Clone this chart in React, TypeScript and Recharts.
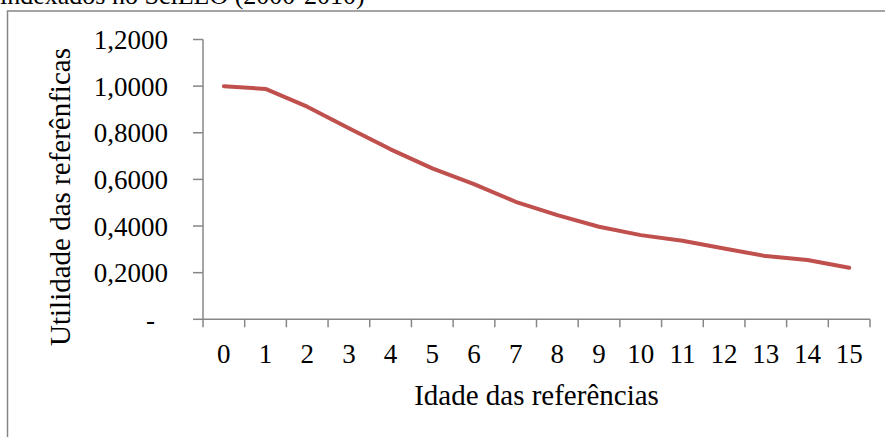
import React from "react";
import { LineChart, Line, XAxis, YAxis } from "recharts";

// idade das referências (anos) e utilidade média
const idades = ["0", "1", "2", "3", "4", "5", "6", "7", "8", "9", "10", "11", "12", "13", "14", "15"];
const utilidade = [1.0, 0.988, 0.912, 0.819, 0.729, 0.647, 0.58, 0.504, 0.447, 0.397, 0.361, 0.337, 0.304, 0.271, 0.254, 0.221];
const yTicks = [0, 0.2, 0.4, 0.6, 0.8, 1.0, 1.2];

const data = idades.map((idade, i) => ({ idade, utilidade: utilidade[i] }));

const W = 885;
const H = 437;
const FONT = '"Liberation Serif", "Times New Roman", serif';
const AXIS = "#878787";
const PLOT_LEFT = 203;
const PLOT_RIGHT = 15;
const BAND = (W - PLOT_LEFT - PLOT_RIGHT) / idades.length;

const fmt = (v: number) => (v === 0 ? "-" : v.toFixed(4).replace(".", ","));

const XTick = (props: any) => {
  const { x, y, payload, index } = props;
  const half = BAND / 2;
  return (
    <g>
      <line x1={x - half} x2={x - half} y1={y - 8} y2={y} stroke={AXIS} strokeWidth={1.5} />
      {index === idades.length - 1 && (
        <line x1={x + half} x2={x + half} y1={y - 8} y2={y} stroke={AXIS} strokeWidth={1.5} />
      )}
      <text x={x} y={y + 36} textAnchor="middle" fontFamily={FONT} fontSize={27} fill="#000">
        {payload.value}
      </text>
    </g>
  );
};

const YTick = (props: any) => {
  const { x, y, payload } = props;
  const isZero = payload.value === 0;
  return (
    <text x={isZero ? x - 13 : x} y={y} dy="0.355em" textAnchor="end" fontFamily={FONT} fontSize={27} fill="#000">
      {fmt(payload.value)}
    </text>
  );
};

export default function App() {
  return (
    <div style={{ position: "absolute", left: 0, top: 0, width: W, height: H, background: "#fff", overflow: "hidden" }}>
      <svg width={W} height={H} style={{ position: "absolute", left: 0, top: 0 }}>
        <text x={0} y={4} fontFamily={FONT} fontSize={26} fill="#000">
          indexados no SciELO (2000-2010)
        </text>
        <rect x={7.5} y={11} width={W + 20} height={H + 20} fill="none" stroke={AXIS} strokeWidth={1.5} />
        <text
          x={70}
          y={197}
          transform="rotate(-90 70 197)"
          textAnchor="middle"
          fontFamily={FONT}
          fontSize={29}
          fill="#000"
        >
          Utilidade das referênficas
        </text>
      </svg>
      <div style={{ position: "absolute", left: 0, top: 0 }}>
        <LineChart width={W} height={H} data={data} margin={{ top: 39.5, right: PLOT_RIGHT, bottom: 57.7, left: 0 }}>
          <XAxis
            dataKey="idade"
            scale="band"
            height={60}
            axisLine={{ stroke: AXIS, strokeWidth: 1.5 }}
            tickLine={false}
            tickSize={8}
            tickMargin={0}
            tick={<XTick />}
            interval={0}
            label={{
              content: (p: any) => {
                const vb = p.viewBox;
                return (
                  <text x={vb.x + vb.width / 2} y={vb.y + 86} textAnchor="middle" fontFamily={FONT} fontSize={29} fill="#000">
                    Idade das referências
                  </text>
                );
              },
            }}
          />
          <YAxis
            domain={[0, 1.2]}
            ticks={yTicks}
            width={PLOT_LEFT}
            axisLine={{ stroke: AXIS, strokeWidth: 1.5 }}
            tickLine={{ stroke: AXIS, strokeWidth: 1.5 }}
            tickSize={10}
            tickMargin={25}
            tick={<YTick />}
            interval={0}
          />
          <Line
            type="linear"
            dataKey="utilidade"
            stroke="#C0504D"
            strokeWidth={4}
            strokeLinecap="round"
            strokeLinejoin="round"
            dot={false}
            activeDot={false}
            isAnimationActive={false}
          />
        </LineChart>
      </div>
    </div>
  );
}
